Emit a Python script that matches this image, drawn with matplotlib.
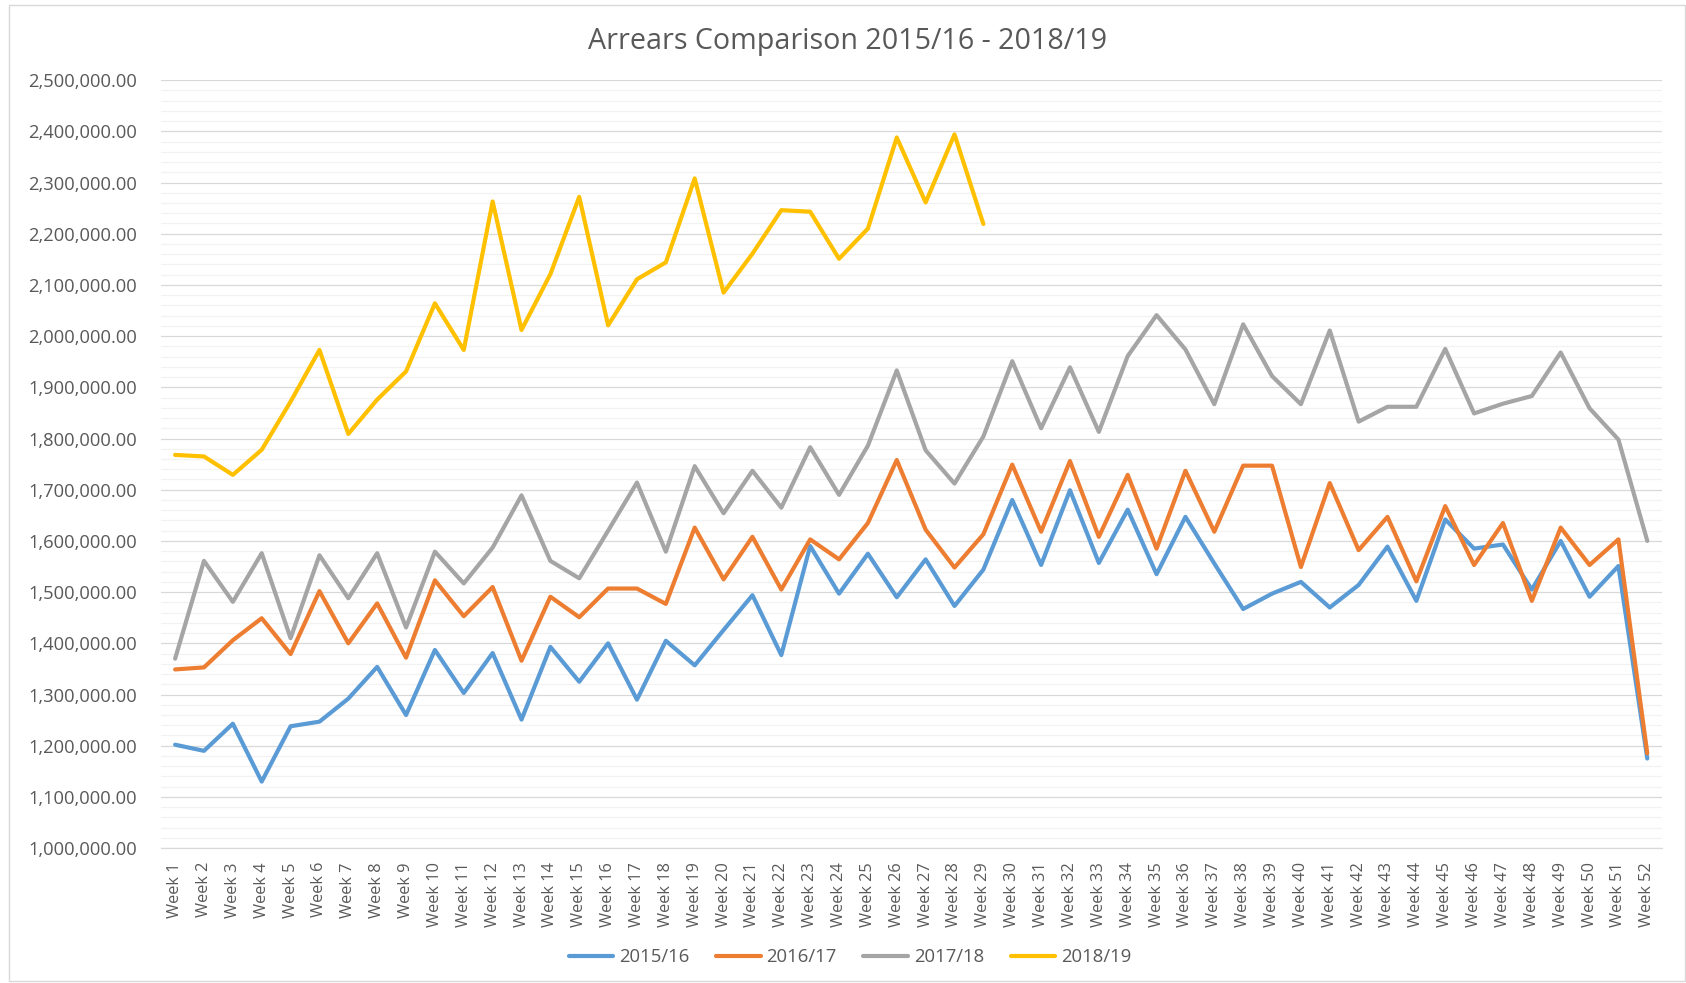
import matplotlib
matplotlib.use('Agg')
import numpy as np
import matplotlib.pyplot as plt
from matplotlib.ticker import MultipleLocator, FuncFormatter
from matplotlib.patches import Rectangle

plt.rcParams['font.family'] = ['Open Sans', 'DejaVu Sans']

# weekly arrears (thousands)
weeks = ['Week %d' % i for i in range(1, 53)]

arrears_1516 = [1202, 1190, 1243, 1130, 1238, 1247, 1292, 1354, 1260, 1387,
                1303, 1381, 1251, 1393, 1325, 1400, 1290, 1405, 1357, 1426,
                1494, 1377, 1590, 1497, 1575, 1490, 1564, 1473, 1544, 1680,
                1553, 1699, 1557, 1661, 1535, 1647, 1556, 1467, 1497, 1520,
                1470, 1514, 1589, 1483, 1642, 1585, 1593, 1505, 1600, 1491,
                1551, 1175]
arrears_1617 = [1349, 1353, 1406, 1449, 1379, 1502, 1400, 1478, 1372, 1523,
                1453, 1510, 1366, 1491, 1451, 1507, 1507, 1477, 1626, 1525,
                1608, 1505, 1603, 1564, 1635, 1758, 1622, 1548, 1613, 1749,
                1618, 1756, 1608, 1729, 1585, 1737, 1618, 1747, 1747, 1549,
                1713, 1582, 1647, 1521, 1668, 1553, 1635, 1483, 1626, 1553,
                1603, 1185]
arrears_1718 = [1370, 1561, 1481, 1576, 1410, 1572, 1488, 1576, 1431, 1579,
                1517, 1587, 1689, 1561, 1527, 1620, 1714, 1579, 1746, 1654,
                1737, 1665, 1783, 1690, 1786, 1933, 1777, 1712, 1804, 1951,
                1820, 1939, 1813, 1961, 2041, 1974, 1867, 2023, 1922, 1867,
                2011, 1833, 1862, 1862, 1975, 1849, 1868, 1883, 1968, 1859,
                1798, 1600]
arrears_1819 = [1768, 1765, 1729, 1778, 1872, 1973, 1809, 1876, 1931, 2064,
                1973, 2263, 2012, 2121, 2272, 2021, 2111, 2144, 2308, 2085,
                2161, 2246, 2243, 2151, 2210, 2388, 2261, 2394, 2219]

series = [('2015/16', arrears_1516, '#5B9BD5'),
          ('2016/17', arrears_1617, '#ED7D31'),
          ('2017/18', arrears_1718, '#A5A5A5'),
          ('2018/19', arrears_1819, '#FFC000')]

text_col = '#595959'

fig = plt.figure(figsize=(16.86, 9.83), dpi=100)
ax = fig.add_axes([0.0953, 0.1372, 0.8903, 0.7813])

x = np.arange(1, len(weeks) + 1)
for name, vals, col in series:
    xs = x[:len(vals)]
    ax.plot(xs, np.array(vals) * 1000.0, color=col, lw=3.0, label=name,
            solid_capstyle='round', solid_joinstyle='round')

ax.set_xlim(0.5, 52.5)
ax.set_ylim(1000000, 2500000)
ax.yaxis.set_major_locator(MultipleLocator(100000))
ax.yaxis.set_minor_locator(MultipleLocator(20000))
ax.yaxis.set_major_formatter(FuncFormatter(lambda v, p: '{:,.2f}'.format(v)))
ax.grid(which='major', axis='y', color='#D9D9D9', lw=0.9)
ax.grid(which='minor', axis='y', color='#F2F2F2', lw=0.9)
ax.set_axisbelow(True)

for s in ['top', 'right', 'left']:
    ax.spines[s].set_visible(False)
ax.spines['bottom'].set_color('#D9D9D9')
ax.spines['bottom'].set_linewidth(0.9)

ax.set_xticks(x)
ax.set_xticklabels(weeks, rotation=90)
ax.tick_params(axis='both', which='both', length=0, colors=text_col)
ax.tick_params(axis='y', pad=17, labelsize=13.2)
ax.tick_params(axis='x', pad=10, labelsize=11.8)

fig.text(0.503, 1 - 41.5 / 983, 'Arrears Comparison 2015/16 - 2018/19',
         ha='center', va='center', fontsize=20.6, color=text_col)

leg = fig.legend(loc='center', bbox_to_anchor=(850 / 1686, 1 - 957 / 983),
                 ncol=4, frameon=False, fontsize=13.3, handlelength=2.4,
                 handletextpad=0.32, columnspacing=1.45)
for t in leg.get_texts():
    t.set_color(text_col)

# light chart border like the Excel chart area
fig.patches.append(Rectangle((8.5 / 1686, 2 / 983), (1685 - 8.5) / 1686, (981 - 5) / 983,
                             transform=fig.transFigure, fill=False,
                             edgecolor='#D9D9D9', lw=1.0))

fig.savefig('out.png', dpi=100)
